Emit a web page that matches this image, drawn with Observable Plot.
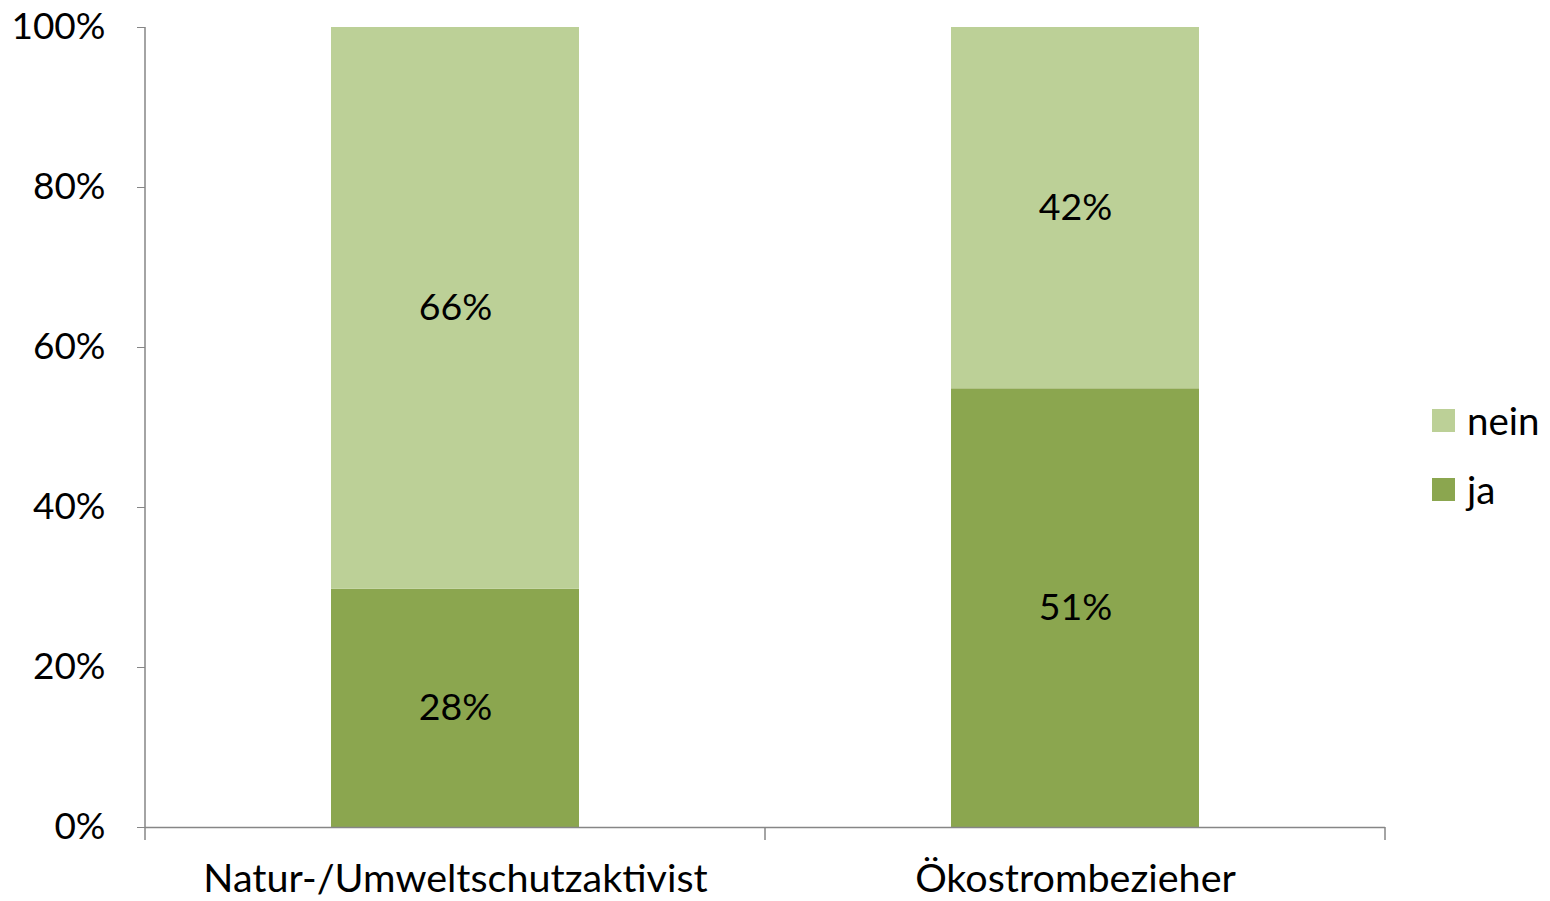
<!DOCTYPE html>
<html>
<head>
<meta charset="utf-8">
<script src="https://cdn.jsdelivr.net/npm/d3@7"></script>
<script src="https://cdn.jsdelivr.net/npm/@observablehq/plot@0.6"></script>
<style>
  html, body { margin: 0; padding: 0; background: #fff; overflow: hidden; }
  #wrap { position: relative; width: 1550px; height: 901px; font-family: Lato, "Open Sans", sans-serif; }
  .legend { position: absolute; left: 1432px; font-size: 38.5px; color: #000; display: flex; align-items: center; }
  .legend span.sw { display: inline-block; width: 23px; height: 23px; margin-right: 12px; }
</style>
</head>
<body>
<div id="wrap"></div>
<script>
const categories = ["Natur-/Umweltschutzaktivist", "Ökostrombezieher"];
const answers = ["ja", "nein"];
const jaValues = [28, 51];
const neinValues = [66, 42];
const colors = ["#8BA64F", "#BCD097"];
const yTicks = [0, 0.2, 0.4, 0.6, 0.8, 1];

const data = [];
categories.forEach((c, i) => {
  data.push({cat: c, answer: "ja", value: jaValues[i]});
  data.push({cat: c, answer: "nein", value: neinValues[i]});
});

const W = 1550, H = 901;
const mL = 145, mR = 165, mT = 27, mB = 74;
const font = "Lato, 'Open Sans', sans-serif";

const plot = Plot.plot({
  width: W, height: H,
  marginLeft: mL, marginRight: mR, marginTop: mT, marginBottom: mB,
  style: {fontFamily: font, fontSize: "37px", color: "#000", background: "#fff"},
  x: {domain: categories, paddingInner: 0.6, paddingOuter: 0.3, label: null, axis: null},
  y: {domain: [0, 1], label: null, axis: null},
  color: {domain: answers, range: colors},
  marks: [
    Plot.barY(data, Plot.stackY({x: "cat", y: "value", fill: "answer", offset: "normalize", order: answers})),
    Plot.text(data, Plot.stackY({x: "cat", y: "value", z: "answer", offset: "normalize", order: answers,
      text: d => d.value + "%", fontSize: 37.5, fill: "#000"})),
    Plot.axisY({ticks: yTicks, tickFormat: d => Math.round(d * 100) + "%", tickSize: 8, tickPadding: 32,
      stroke: "#868686", strokeOpacity: 1, fontSize: 37, fill: "#000", label: null}),
    Plot.axisX({tickSize: 0, tickPadding: 36, fontSize: 39.5, fill: "#000", label: null}),
    Plot.ruleY([0], {stroke: "#868686", strokeWidth: 1.5})
  ]
});

const wrap = document.getElementById("wrap");
wrap.appendChild(plot);

// y axis line and x-axis category boundary ticks, positioned from the plot's scales
const xs = plot.scale("x");
const ys = plot.scale("y");
const svg = d3.select(plot);
const step = xs.step;
const yTop = ys.apply(1), yBot = ys.apply(0);
const x0 = xs.apply(categories[0]) - (step - xs.bandwidth) / 2;
svg.append("line").attr("x1", x0).attr("x2", x0).attr("y1", yTop).attr("y2", yBot)
  .attr("stroke", "#868686").attr("stroke-width", 1.5);
const bounds = [x0, ...categories.map(c => xs.apply(c) + xs.bandwidth + (step - xs.bandwidth) / 2)];
bounds.forEach(b => {
  svg.append("line").attr("x1", b).attr("x2", b).attr("y1", yBot).attr("y2", yBot + 13)
    .attr("stroke", "#868686").attr("stroke-width", 1.5);
});

// legend (nein above ja)
[["nein", colors[1], 397], ["ja", colors[0], 466]].forEach(([label, col, top]) => {
  const d = document.createElement("div");
  d.className = "legend";
  d.style.top = top + "px";
  d.innerHTML = `<span class="sw" style="background:${col}"></span><span>${label}</span>`;
  wrap.appendChild(d);
});
</script>
</body>
</html>
